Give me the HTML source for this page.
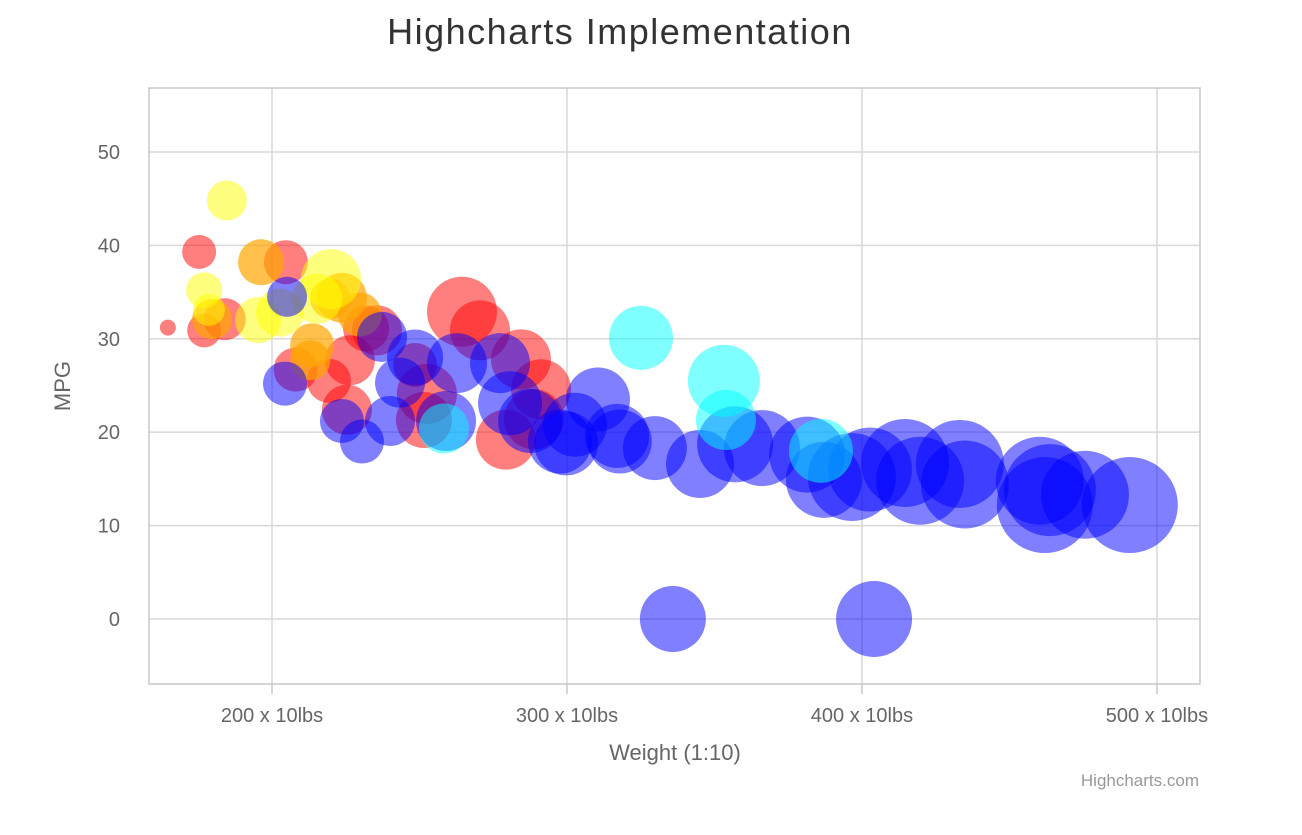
<!DOCTYPE html>
<html><head><meta charset="utf-8"><style>
body{margin:0;background:#fff;font-family:"Liberation Sans",sans-serif}
</style></head><body>
<svg id="chart" width="1302" height="830" xmlns="http://www.w3.org/2000/svg">
<text x="620" y="44" text-anchor="middle" font-size="36" letter-spacing="1.5" fill="#333">Highcharts Implementation</text>
<g id="grid"></g>
<g id="bubbles"></g>
<rect x="149" y="88" width="1051" height="596" fill="none" stroke="#c8c8c8" stroke-width="1.5"/>
<g id="axes"></g>
<text x="675" y="760" text-anchor="middle" font-size="22" fill="#666">Weight (1:10)</text>
<text transform="translate(70,386) rotate(-90)" text-anchor="middle" font-size="22" fill="#666">MPG</text>
<text x="1199" y="786" text-anchor="end" font-size="17" fill="#999">Highcharts.com</text>
</svg>
<script>
const xTicks=[200,300,400,500];
const xTickLabels=["200 x 10lbs","300 x 10lbs","400 x 10lbs","500 x 10lbs"];
const yTicks=[0,10,20,30,40,50];
const bubbleX=[164.7,175.3,177,184,204.7,208,219.3,225.4,226.4,231.9,235.6,248.5,251.5,264.4,270.5,252.5,279.3,284.4,291.2,288.8,
 196.3,179.7,223.7,229.8,213.6,213,219.7,
 184.7,177,178.6,195.3,202.7,220,215.3,
 204.4,205.1,237.3,223.7,230.5,240,243.4,248.5,259,262.7,277.3,280.7,287.5,297.6,302.7,299.7,310.5,317.9,317,329.8,345.1,357,366.1,387.1,381.4,402.7,414.6,419.7,433.2,434.9,462,463.7,475.6,490.8,335.9,404.1,460.3,396.6,
 325.1,353.2,386.1,353.9,258.3];
const bubbleY=[31.2,39.3,30.9,32.1,38.2,26.7,25.5,22.4,27.7,31.1,30.9,27.2,21.3,32.9,30.9,24.1,19.2,27.8,24.6,21.4,
 38.2,32.1,34.4,32.6,29.3,27.7,34.3,
 44.8,35.2,33.1,32.0,32.8,36.4,34.3,
 25.2,34.5,30.2,21.2,19,21.2,25.3,28.0,21.2,27.4,27.4,23.1,21.2,19,20.8,18.8,23.5,19,19.6,18.3,16.6,18.7,18.3,14.9,17.6,16,16.7,14.8,16.6,14.4,12.2,13.8,13.3,12.2,0,0,14.8,15.2,
 30.1,25.5,18.0,21.3,20.4];
const bubbleSize=[8,17,17,21,22,22,22,25,25,23,25,22,28,35,30,30,30,30,30,30,
 23,20,25,22,22,20,20,
 20,18,16,23,24,30,25,
 22,20,25,22,22,25,25,28,30,30,30,32,32,32,32,32,32,32,32,32,34,38,38,38,38,42,44,44,44,44,48,46,44,48,33,38,44,44,
 32,36,32,30,25];
const bubbleSeries=["r","r","r","r","r","r","r","r","r","r","r","r","r","r","r","r","r","r","r","r",
 "o","o","o","o","o","o","o",
 "y","y","y","y","y","y","y",
 "b","b","b","b","b","b","b","b","b","b","b","b","b","b","b","b","b","b","b","b","b","b","b","b","b","b","b","b","b","b","b","b","b","b","b","b","b","b",
 "c","c","c","c","c"];
const fills={r:"rgba(255,0,0,0.5)",o:"rgba(255,165,0,0.7)",y:"rgba(255,255,0,0.5)",b:"rgba(0,0,255,0.5)",c:"rgba(0,255,255,0.5)"};
const X0=149,X1=1200,Y0=88,Y1=684;
const xMin=158.3,xMax=514.6,yMin=-6.96,yMax=56.85;
const xs=v=>X0+(v-xMin)/(xMax-xMin)*(X1-X0);
const ys=v=>Y1-(v-yMin)/(yMax-yMin)*(Y1-Y0);
const rs=s=>s;
const NS="http://www.w3.org/2000/svg";
const grid=document.getElementById('grid'),axes=document.getElementById('axes'),bub=document.getElementById('bubbles');
function mk(tag,attrs,parent){const e=document.createElementNS(NS,tag);for(const k in attrs)e.setAttribute(k,attrs[k]);parent.appendChild(e);return e;}
yTicks.forEach(t=>{
 const y=ys(t);
 const l=mk('line',{x1:X0,x2:X1,y1:y,y2:y,stroke:'#d8d8d8','stroke-width':1.5},grid);
 
 
 const tx=mk('text',{x:120,y:y+7,'text-anchor':'end','font-size':20,fill:'#666'},axes);
 tx.textContent=t;
 
 
});
xTicks.forEach((t,i)=>{
 const x=xs(t);
 const l=mk('line',{x1:x,x2:x,y1:Y0,y2:Y1,stroke:'#d8d8d8','stroke-width':1.5},grid);
 
 
 const tk=mk('line',{x1:x,x2:x,y1:Y1,y2:Y1+10,stroke:'#c8c8c8','stroke-width':1.5},axes);
 
 
 const tx=mk('text',{x:x,y:722,'text-anchor':'middle','font-size':20,fill:'#666'},axes);
 tx.textContent=xTickLabels[i];
 
 
});
bubbleX.forEach((v,i)=>{
 const c=mk('circle',{cx:xs(v),cy:ys(bubbleY[i]),r:rs(bubbleSize[i]),fill:fills[bubbleSeries[i]]},bub);
 
 
});
</script>
</body></html>
